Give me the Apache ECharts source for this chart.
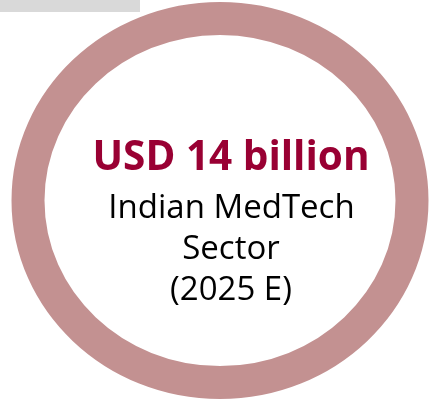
<!DOCTYPE html>
<html>
<head>
<meta charset="utf-8">
<script src="https://cdn.jsdelivr.net/npm/echarts@6/dist/echarts.min.js"></script>
<style>
html,body{margin:0;padding:0;background:#fff;}
#chart{width:436px;height:404px;}
</style>
</head>
<body>
<div id="chart"></div>
<script>
// Data
var marketValue = [14];
var headline = ['USD 14 billion'];
var subLines = ['Indian MedTech', 'Sector', '(2025 E)'];

var chart = echarts.init(document.getElementById('chart'), null, {renderer: 'canvas'});

var ringColor = '#c39191';
var headColor = '#990033';
var font = '"Open Sans", "Noto Sans", sans-serif';

var option = {
  animation: false,
  backgroundColor: '#ffffff',
  graphic: [
    {type: 'rect', shape: {x: 0, y: 0, width: 140, height: 12}, style: {fill: '#d9d9d9'}, z: 1},
    {type: 'text', x: 231, y: 158, z: 10, style: {text: headline[0], fill: headColor, font: 'bold 40.5px ' + font, align: 'center', verticalAlign: 'middle'}},
    {type: 'text', x: 231.5, y: 209, z: 10, style: {text: subLines[0], fill: '#000', font: '33px ' + font, align: 'center', verticalAlign: 'middle'}},
    {type: 'text', x: 231, y: 249.5, z: 10, style: {text: subLines[1], fill: '#000', font: '33px ' + font, align: 'center', verticalAlign: 'middle'}},
    {type: 'text', x: 231, y: 290.5, z: 10, style: {text: subLines[2], fill: '#000', font: '33px ' + font, align: 'center', verticalAlign: 'middle'}}
  ],
  series: [{
    type: 'custom',
    coordinateSystem: 'none',
    data: marketValue,
    silent: true,
    renderItem: function (params, api) {
      return {
        type: 'ellipse',
        shape: {cx: 220, cy: 200.5, rx: 192, ry: 182},
        style: {fill: 'none', stroke: ringColor, lineWidth: 33}
      };
    }
  }]
};
chart.setOption(option);
</script>
</body>
</html>
